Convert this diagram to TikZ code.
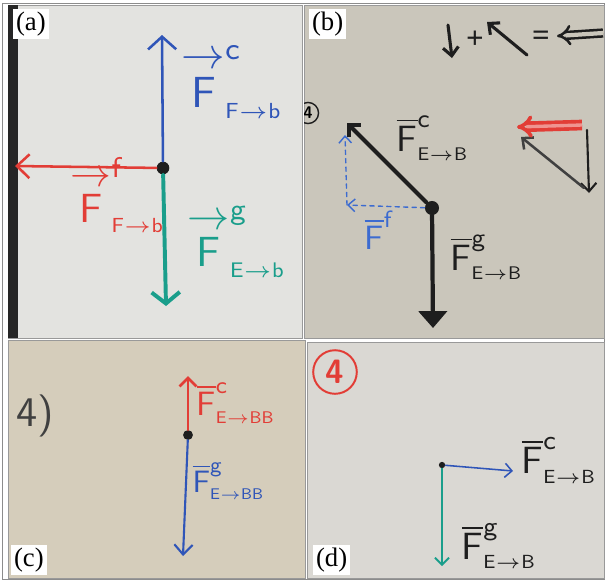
\documentclass[tikz,border=0pt]{standalone}
\usepackage{fontspec}
\setmainfont{Liberation Serif}
\usepackage{amsmath}
\usetikzlibrary{arrows.meta,positioning,calc}
\definecolor{boarda}{HTML}{E3E3E0}
\definecolor{boardb}{HTML}{CAC6BB}
\definecolor{boardc}{HTML}{D5CDBB}
\definecolor{boardd}{HTML}{DAD8D3}
\definecolor{penblue}{HTML}{2F55B8}
\definecolor{penlight}{HTML}{3C6BD0}
\definecolor{penred}{HTML}{E23D36}
\definecolor{pengreen}{HTML}{1A9E8B}
\definecolor{penink}{HTML}{1E1E1E}
\newcommand{\Fa}[2]{$\overset{\textstyle\rightarrow}{\mathsf{F}}^{\mathsf{#1}}_{\scriptscriptstyle\mathsf{#2}}$}
\newcommand{\Fb}[2]{$\overline{\mathsf{F}}^{\mathsf{#1}}_{\scriptscriptstyle\mathsf{#2}}$}
\tikzset{
    board/.style={draw=black!40,line width=0.5pt},
    paneltag/.style={fill=white,inner sep=2pt,font=\fontsize{19}{19}\selectfont},
    handlabel/.style={inner sep=0pt,anchor=west,scale=#1},
    bead/.style={circle,fill=penink,inner sep=0pt,minimum size=#1},
    pen/.style={line width=#1,line cap=round},
    barb/.style 2 args={-{Straight Barb[length=#1,width=#2]}},
}

\begin{document}
\begin{tikzpicture}[x=0.025cm,y=-0.025cm]
    \useasboundingbox (0,0) rectangle (605,581);
    \fill[white] (0,0) rectangle (605,581);
    \draw[black!45,line width=0.5pt] (2,3) rectangle (604,579);

    % (a)
    \fill[boarda,board] (8,5) rectangle (302,338);
    \fill[black!85] (8,5) rectangle (18,338);
    \node[paneltag,anchor=north west] (tagA) at (13,9) {(a)};
    \node[bead=9pt] (hubA) at (163,168) {};
    \coordinate (cA) at (162,35);
    \coordinate (fA) at (15,166);
    \coordinate (gA) at (166,306);
    \draw[pen=1.8pt,penblue,barb={9pt}{20pt}] (hubA) -- (cA);
    \draw[pen=1.8pt,penred,barb={9pt}{17pt}] (hubA) -- (fA);
    \draw[pen=2.8pt,pengreen,barb={8pt}{20pt}] (hubA) -- (gA);
    \node[handlabel=3.1,text=penblue] (labcA) at (181,82) {\Fa{c}{F\to b}};
    \node[handlabel=2.9,text=penred] (labfA) at (70,195) {\Fa{f}{F\to b}};
    \node[handlabel=3.0,text=pengreen] (labgA) at (187,242) {\Fa{g}{E\to b}};

    % (b)
    \fill[boardb,board] (304,5) rectangle (604,338);
    \node[paneltag,anchor=north west] (tagB) at (309,9) {(b)};
    \begin{scope}
        \clip (304,5) rectangle (604,338);
        \node[circle,draw=penink,line width=1pt,minimum size=15pt,inner sep=0pt,font=\sffamily\bfseries\fontsize{12}{12}\selectfont] (numB) at (308,113) {4};
    \end{scope}
    \coordinate (eqDownS) at (448,25);
    \coordinate (eqDownE) at (452,58);
    \coordinate (eqUpS) at (527,55);
    \coordinate (eqUpE) at (487,22);
    \coordinate (eqDblS) at (603,33);
    \coordinate (eqDblE) at (557,36);
    \draw[pen=2.2pt,penink,barb={6pt}{11pt}] (eqDownS) -- (eqDownE);
    \node[inner sep=0pt,scale=2.2,text=penink,font=\bfseries] (plusB) at (475,40) {+};
    \draw[pen=2.2pt,penink,barb={6pt}{11pt}] (eqUpS) -- (eqUpE);
    \node[inner sep=0pt,scale=2.2,text=penink,font=\bfseries] (eqB) at (541,38) {=};
    \draw[line width=1.8pt,penink,double=boardb,double distance=3pt,-{Implies}] (eqDblS) -- (eqDblE);

    \node[bead=10pt] (hubB) at (432,208) {};
    \coordinate (cB) at (347,123);
    \coordinate (gB) at (433,328);
    \coordinate (fB) at (347,205);
    \coordinate (fBtop) at (345,135);
    \draw[pen=2.8pt,penink,barb={6pt}{12pt}] (hubB) -- (cB);
    \draw[pen=3pt,penink,-{Triangle[length=12pt,width=20pt]}] (hubB) -- (gB);
    \draw[pen=1pt,penlight,dashed,barb={5pt}{9pt}] (hubB) -- (fB);
    \draw[pen=1pt,penlight,dashed,barb={5pt}{9pt}] (fB) -- (fBtop);
    \node[handlabel=2.6,text=penink] (labcB) at (396,138) {\Fb{c}{E\to B}};
    \node[handlabel=2.4,text=penlight] (labfB) at (364,234) {\Fb{f}{}};
    \node[handlabel=2.6,text=penink] (labgB) at (450,257) {\Fb{g}{E\to B}};

    \coordinate (triRed) at (582,125);
    \coordinate (triTip) at (517,127);
    \coordinate (triTop) at (587,130);
    \coordinate (triBot) at (589,193);
    \coordinate (triDiag) at (584,188);
    \coordinate (triEnd) at (521,137);
    \draw[pen=1.5pt,penink,barb={6pt}{11pt}] (triTop) -- (triBot);
    \draw[pen=1.8pt,penink!85,barb={6pt}{11pt}] (triDiag) -- (triEnd);
    \draw[line width=2.6pt,penred,double=penred!55,double distance=2.4pt,-{Implies}] (triRed) -- (triTip);

    % (c)
    \fill[boardc,board] (8,340) rectangle (305,578);
    \node[paneltag,anchor=south west] (tagC) at (11,575) {(c)};
    \node[inner sep=0pt,scale=3,text=black!75,font=\sffamily] (numC) at (35,416) {4)};
    \node[bead=7pt] (hubC) at (188,435) {};
    \coordinate (cC) at (188,376);
    \coordinate (gC) at (183,556);
    \draw[pen=2pt,penred,barb={6pt}{12pt}] (hubC) -- (cC);
    \draw[pen=1.5pt,penblue,barb={7pt}{13pt}] (hubC) -- (gC);
    \node[handlabel=2.4,text=penred] (labcC) at (196,403) {\Fb{c}{E\to BB}};
    \node[handlabel=2.2,text=penblue] (labgC) at (192,481) {\Fb{g}{E\to BB}};

    % (d)
    \fill[boardd,board] (307,342) rectangle (604,578);
    \node[paneltag,anchor=south west] (tagD) at (313,575) {(d)};
    \node[circle,draw=penred,line width=1.4pt,minimum size=31pt,inner sep=0pt,text=penred,font=\sffamily\bfseries\fontsize{24}{24}\selectfont] (numD) at (335,372) {4};
    \node[bead=4.5pt] (hubD) at (442,465) {};
    \coordinate (cD) at (513,471);
    \coordinate (gD) at (442,566);
    \draw[pen=1.1pt,penblue,barb={5pt}{10pt}] (hubD) -- (cD);
    \draw[pen=1.3pt,pengreen,barb={5pt}{10pt}] (hubD) -- (gD);
    \node[handlabel=2.7,text=penink] (labcD) at (521,460) {\Fb{c}{E\to B}};
    \node[handlabel=2.7,text=penink] (labgD) at (461,546) {\Fb{g}{E\to B}};
\end{tikzpicture}
\end{document}
